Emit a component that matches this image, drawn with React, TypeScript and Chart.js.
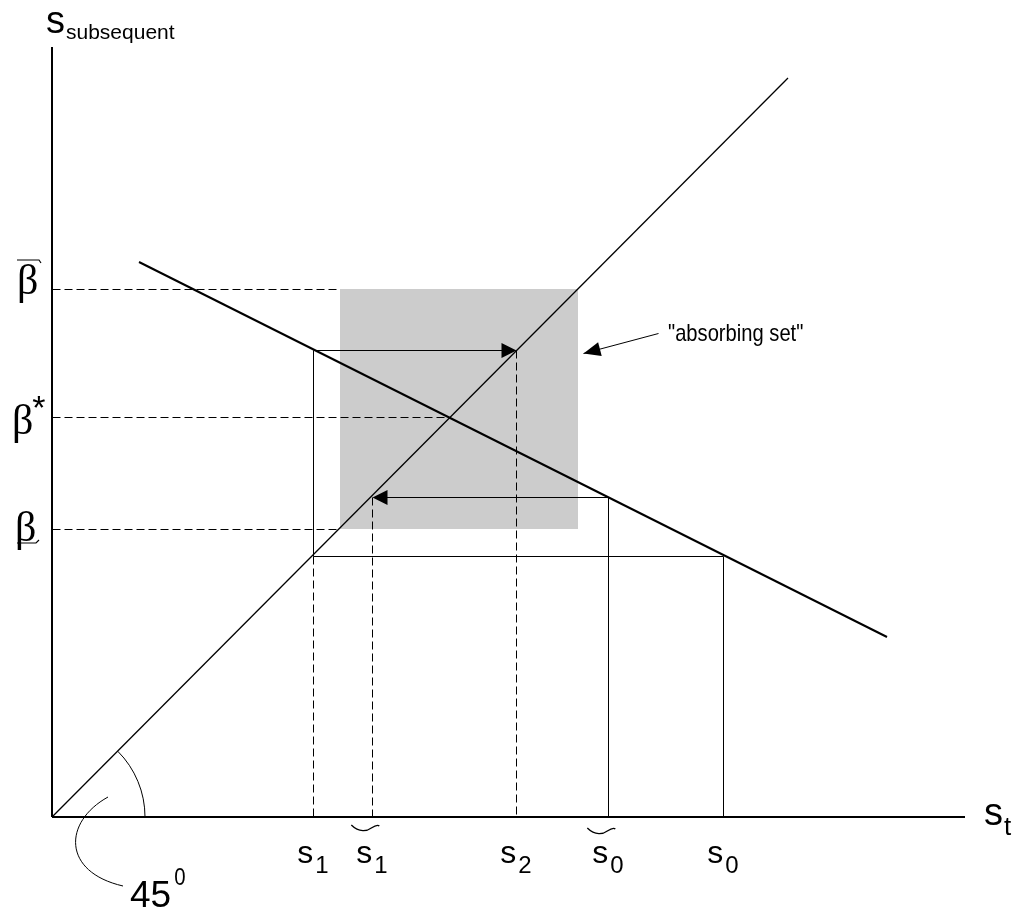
import React, { useEffect, useRef } from 'react';
import { Chart, registerables } from 'chart.js';

Chart.register(...registerables);

// ---- data (units measured from the origin) ----
const xAxisEnd = 913;
const yAxisEnd = 770;
const diagonalLine = [{ x: 0, y: 0 }, { x: 736, y: 739 }];
const responseLine = [{ x: 87, y: 555 }, { x: 835, y: 180 }];
const absorbingX = [288, 526];
const absorbingY = [288, 528];
const betaLevels = [528, 400, 288];
const betaDashEnd = [288, 398, 288];
const betaKinds = ['bar', 'star', 'under'];
const sValues = [261, 320, 464, 556, 671];
const sSubscripts = ['1', '1', '2', '0', '0'];
const sTilde = [false, true, false, true, false];
const responseAtS0 = 261;
const responseAtS0Tilde = 320;
const responseAtS1 = 467;
const labelArrow = [{ x: 606, y: 484 }, { x: 531, y: 464 }];
const labelText = '"absorbing set"';
const angleLabel = '45';
const angleSup = '0';

const [s1, s1t, s2, s0t, s0] = sValues;

const black = '#000000';

function seg(data: { x: number; y: number }[], width = 1, dash: number[] = []) {
  return {
    data,
    showLine: true,
    borderColor: black,
    borderWidth: width,
    borderDash: dash,
    pointRadius: 0,
    fill: false,
    tension: 0,
    clip: false as const,
  };
}

const crispPlugin = {
  id: 'crisp',
  beforeDatasetDraw(chart: any, args: any) {
    const ds = chart.data.datasets[args.index];
    if (ds.borderWidth === 1) {
      chart.ctx.save();
      chart.ctx.translate(0.5, 0.5);
      (args.meta as any)._crisp = true;
    }
  },
  afterDatasetDraw(chart: any, args: any) {
    if ((args.meta as any)._crisp) {
      chart.ctx.restore();
      (args.meta as any)._crisp = false;
    }
  },
};

const decorPlugin = {
  id: 'decor',
  afterDatasetsDraw(chart: any) {
    const ctx: CanvasRenderingContext2D = chart.ctx;
    const xs = chart.scales.x;
    const ys = chart.scales.y;
    const px = (v: number) => xs.getPixelForValue(v);
    const py = (v: number) => ys.getPixelForValue(v);
    ctx.save();
    ctx.fillStyle = black;
    ctx.strokeStyle = black;

    const head = (tx: number, ty: number, fx: number, fy: number, len: number, hw: number) => {
      const a = Math.atan2(ty - fy, tx - fx);
      ctx.beginPath();
      ctx.moveTo(tx, ty);
      ctx.lineTo(tx - len * Math.cos(a) + hw * Math.sin(a), ty - len * Math.sin(a) - hw * Math.cos(a));
      ctx.lineTo(tx - len * Math.cos(a) - hw * Math.sin(a), ty - len * Math.sin(a) + hw * Math.cos(a));
      ctx.closePath();
      ctx.fill();
    };
    // cobweb arrows
    head(px(s2) + 0.5, py(responseAtS1) + 0.5, px(s1), py(responseAtS1) + 0.5, 15, 7.5);
    head(px(s1t) + 0.5, py(responseAtS0Tilde) + 0.5, px(s0t), py(responseAtS0Tilde) + 0.5, 15, 7.5);
    // label arrow
    head(px(labelArrow[1].x) + 0.5, py(labelArrow[1].y) + 0.5, px(labelArrow[0].x) + 0.5, py(labelArrow[0].y) + 0.5, 17, 7);

    // label text (narrow)
    ctx.textBaseline = 'alphabetic';
    ctx.textAlign = 'left';
    ctx.save();
    ctx.translate(px(labelArrow[0].x) + 10, py(labelArrow[0].y) + 8);
    ctx.scale(0.84, 1);
    ctx.font = '24px "Liberation Sans", Arial, sans-serif';
    ctx.fillText(labelText, 0, 0);
    ctx.restore();

    // angle arc
    const ox = px(0);
    const oy = py(0);
    ctx.lineWidth = 1;
    ctx.beginPath();
    ctx.arc(ox, oy, 93, -Math.PI / 4, 0);
    ctx.stroke();
    // leader curve
    ctx.beginPath();
    ctx.moveTo(ox + 56, oy - 20);
    ctx.bezierCurveTo(ox + 11, oy + 5, ox + 10, oy + 55, ox + 71, oy + 69);
    ctx.stroke();
    ctx.font = '37px "Liberation Sans", Arial, sans-serif';
    ctx.fillText(angleLabel, ox + 78, oy + 90);
    const w45 = ctx.measureText(angleLabel).width;
    ctx.save();
    ctx.translate(ox + 78 + w45 + 3, oy + 68);
    ctx.scale(0.85, 1);
    ctx.font = '24px "Liberation Sans", Arial, sans-serif';
    ctx.fillText(angleSup, 0, 0);
    ctx.restore();

    // x tick labels
    sValues.forEach((v, i) => {
      ctx.font = '32px "Liberation Sans", Arial, sans-serif';
      const sw = ctx.measureText('s').width;
      ctx.font = '24px "Liberation Sans", Arial, sans-serif';
      const dw = ctx.measureText(sSubscripts[i]).width;
      const gap = 2;
      const total = sw + gap + dw;
      const left = px(v) - total / 2;
      const base = oy + 46;
      ctx.font = '32px "Liberation Sans", Arial, sans-serif';
      ctx.fillText('s', left, base);
      ctx.font = '24px "Liberation Sans", Arial, sans-serif';
      ctx.fillText(sSubscripts[i], left + sw + gap, base + 10);
      if (sTilde[i]) {
        const cx = left + sw / 2 + 1;
        const ty = oy + 9 + (i === 3 ? 3 : 0);
        ctx.lineWidth = 1.3;
        ctx.beginPath();
        ctx.moveTo(cx - 14, ty - 1);
        ctx.bezierCurveTo(cx - 6, ty + 7, cx + 2, ty + 5, cx + 6, ty + 2);
        ctx.bezierCurveTo(cx + 9, ty, cx + 12, ty - 2, cx + 14, ty);
        ctx.stroke();
      }
    });

    // axis names
    ctx.font = '38px "Liberation Sans", Arial, sans-serif';
    ctx.fillText('s', px(xAxisEnd) + 19, oy + 8);
    const stw = ctx.measureText('s').width;
    ctx.font = '26px "Liberation Sans", Arial, sans-serif';
    ctx.fillText('t', px(xAxisEnd) + 19 + stw + 1, oy + 18);

    ctx.font = '38px "Liberation Sans", Arial, sans-serif';
    const topY = py(yAxisEnd);
    ctx.fillText('s', ox - 6, topY - 14);
    const ssw = ctx.measureText('s').width;
    ctx.font = '21px "Liberation Sans", Arial, sans-serif';
    ctx.fillText('subsequent', ox - 6 + ssw + 1, topY - 8);

    // beta labels
    const betaBase = [5, 17, 12];
    const betaLeft = [17, 12, 15];
    betaLevels.forEach((v, i) => {
      const y = py(v) + betaBase[i];
      const l = betaLeft[i];
      ctx.font = '42px "Liberation Serif", "DejaVu Serif", serif';
      ctx.fillText('\u03b2', l, y);
      const bw = ctx.measureText('\u03b2').width;
      ctx.lineWidth = 1.2;
      if (betaKinds[i] === 'bar') {
        ctx.beginPath();
        ctx.moveTo(l, y - 34);
        ctx.lineTo(l + 22, y - 34);
        ctx.lineTo(l + 24, y - 31);
        ctx.stroke();
      } else if (betaKinds[i] === 'star') {
        ctx.font = '34px "Liberation Sans", Arial, sans-serif';
        ctx.fillText('*', l + bw - 1, y - 15);
      } else {
        ctx.beginPath();
        ctx.moveTo(l + 2, y + 2);
        ctx.lineTo(l + 21, y + 2);
        ctx.lineTo(l + 24, y - 1);
        ctx.stroke();
      }
    });

    ctx.restore();
  },
};

export default function App() {
  const ref = useRef<HTMLCanvasElement | null>(null);
  useEffect(() => {
    if (!ref.current) return;
    const datasets: any[] = [
      seg([{ x: 0, y: 0 }, { x: xAxisEnd, y: 0 }], 2),
      seg([{ x: 0, y: 0 }, { x: 0, y: yAxisEnd }], 2),
      seg(diagonalLine, 1.3),
      seg(responseLine, 2),
      ...betaLevels.map((v, i) => seg([{ x: 0, y: v }, { x: betaDashEnd[i], y: v }], 1, [8, 4])),
      seg([{ x: s0, y: 0 }, { x: s0, y: responseAtS0 }, { x: s1, y: responseAtS0 }, { x: s1, y: responseAtS1 }, { x: s2 - 8, y: responseAtS1 }], 1),
      seg([{ x: s1, y: responseAtS0 }, { x: s1, y: 0 }], 1, [8, 4]),
      seg([{ x: s2, y: responseAtS1 }, { x: s2, y: 0 }], 1, [8, 4]),
      seg([{ x: s0t, y: 0 }, { x: s0t, y: responseAtS0Tilde }, { x: s1t + 8, y: responseAtS0Tilde }], 1),
      seg([{ x: s1t, y: responseAtS0Tilde }, { x: s1t, y: 0 }], 1, [8, 4]),
      seg(labelArrow, 1),
      {
        data: [{ x: absorbingX[0], y: absorbingY[1] }, { x: absorbingX[1], y: absorbingY[1] }],
        showLine: true,
        borderWidth: 0,
        borderColor: 'rgba(0,0,0,0)',
        backgroundColor: '#cccccc',
        pointRadius: 0,
        fill: '+1',
      },
      {
        data: [{ x: absorbingX[0], y: absorbingY[0] }, { x: absorbingX[1], y: absorbingY[0] }],
        showLine: true,
        borderWidth: 0,
        borderColor: 'rgba(0,0,0,0)',
        pointRadius: 0,
        fill: false,
      },
    ];
    const chart = new Chart(ref.current, {
      type: 'scatter',
      data: { datasets },
      options: {
        responsive: false,
        animation: false,
        devicePixelRatio: 1,
        events: [],
        layout: { padding: { left: 52, right: 50, top: 47, bottom: 100 } },
        scales: {
          x: { type: 'linear', min: 0, max: xAxisEnd, display: false },
          y: { type: 'linear', min: 0, max: yAxisEnd, display: false },
        },
        plugins: {
          legend: { display: false },
          tooltip: { enabled: false },
          filler: { drawTime: 'beforeDatasetsDraw' },
        },
      } as any,
      plugins: [crispPlugin, decorPlugin],
    });
    return () => chart.destroy();
  }, []);
  return (
    <div style={{ position: 'absolute', left: 0, top: 0, width: 1015, height: 917, background: '#fff' }}>
      <canvas ref={ref} width={1015} height={917} style={{ width: 1015, height: 917, display: 'block' }} />
    </div>
  );
}
